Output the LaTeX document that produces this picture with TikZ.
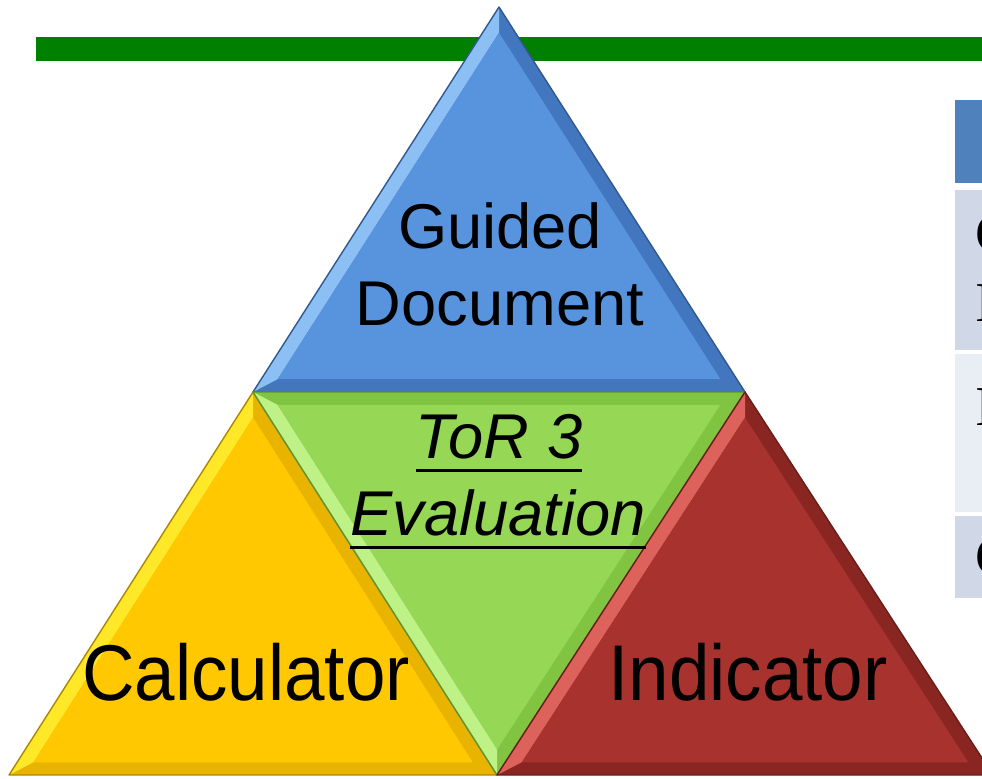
\documentclass[tikz,border=0pt]{standalone}
\usepackage{fontspec}
\setmainfont{Liberation Sans}
\newfontfamily\tabfont{Liberation Serif}
\usepackage{tikz}
\usetikzlibrary{calc}

\definecolor{barcol}{RGB}{0,128,0}
\definecolor{blbase}{RGB}{88,148,222}
\definecolor{bllight}{RGB}{140,192,245}
\definecolor{bldark}{RGB}{66,118,190}
\definecolor{yebase}{RGB}{255,200,0}
\definecolor{yelight}{RGB}{255,232,40}
\definecolor{yedark}{RGB}{232,180,0}
\definecolor{grbase}{RGB}{150,215,85}
\definecolor{grlight}{RGB}{190,242,135}
\definecolor{grdark}{RGB}{128,196,66}
\definecolor{rdbase}{RGB}{168,50,46}
\definecolor{rdlight}{RGB}{222,98,92}
\definecolor{rddark}{RGB}{138,38,34}
\definecolor{tabhead}{RGB}{79,129,189}
\definecolor{tabdark}{RGB}{208,216,232}
\definecolor{tablight}{RGB}{233,237,244}

% triangle with a bevelled rim: corners, fill, light rim, dark rim
\newcommand{\bevtri}[6]{%
  \coordinate (t1) at #1; \coordinate (t2) at #2; \coordinate (t3) at #3;
  \coordinate (tc) at (barycentric cs:t1=1,t2=1,t3=1);
  \coordinate (u1) at ($(tc)!0.9!(t1)$);
  \coordinate (u2) at ($(tc)!0.9!(t2)$);
  \coordinate (u3) at ($(tc)!0.9!(t3)$);
  \fill[#6] (t1) -- (t2) -- (t3) -- cycle;
  \fill[#5] (t1) -- (t2) -- (u2) -- (u1) -- cycle;
  \fill[#4] (u1) -- (u2) -- (u3) -- cycle;
  \draw[#6!75!black, line width=0.4pt, line join=round] (t1) -- (t2) -- (t3) -- cycle;
}
\newcommand{\ulin}[1]{\setbox0\hbox{#1}\rlap{\rule[-3.9pt]{\wd0}{0.9pt}}\box0}

\begin{document}
\begin{tikzpicture}
      \useasboundingbox (0,0) rectangle (9.82,7.78);
      \clip (0,0) rectangle (9.82,7.78);
      \fill[barcol] (0.36,7.17) rectangle (9.9,7.41);
      % table edge on the right
      \fill[tabhead] (9.55,5.95) rectangle (9.9,6.78);
      \fill[tabdark] (9.55,4.28) rectangle (9.9,5.88);
      \fill[tablight] (9.55,2.66) rectangle (9.9,4.24);
      \fill[tabdark] (9.55,1.80) rectangle (9.9,2.62);
      \tikzstyle {tabcell} = [anchor=base west, inner sep=0pt, font=\tabfont\fontsize{16}{16}\selectfont];
      \node (c1) [tabcell] at (9.75,5.26) {C};
      \node (i1) [tabcell] at (9.75,4.57) {I};
      \node (i2) [tabcell] at (9.75,3.53) {I};
      \node (c3) [tabcell] at (9.75,2.03) {C};
      % the four triangles
      \bevtri{(4.99,7.71)}{(2.53,3.86)}{(7.45,3.86)}{blbase}{bllight}{bldark}
      \bevtri{(2.53,3.86)}{(0.09,0.03)}{(4.97,0.03)}{yebase}{yelight}{yedark}
      \bevtri{(2.53,3.86)}{(4.97,0.03)}{(7.45,3.86)}{grbase}{grlight}{grdark}
      \bevtri{(7.45,3.86)}{(4.97,0.03)}{(9.93,0.03)}{rdbase}{rdlight}{rddark}
      \tikzstyle {midtext} = [anchor=base, inner sep=0pt, font=\fontsize{18}{22}\selectfont];
      \tikzstyle {bigtext} = [anchor=base, inner sep=0pt, font=\fontsize{22.5}{26}\selectfont];
      \node (guided) [midtext] at (5.00,5.30) {Guided};
      \node (doc) [midtext] at (5.00,4.53) {Document};
      \node (tor) [midtext] at (4.99,3.20) {\ulin{\textit{ToR 3}}};
      \node (eval) [midtext] at (4.98,2.43) {\ulin{\textit{Evaluation}}};
      \node (calc) [bigtext] at (2.46,0.78) {\scalebox{0.92}[1]{Calculator}};
      \node (ind) [bigtext] at (7.48,0.78) {\scalebox{0.92}[1]{Indicator}};
    \end{tikzpicture}
\end{document}
